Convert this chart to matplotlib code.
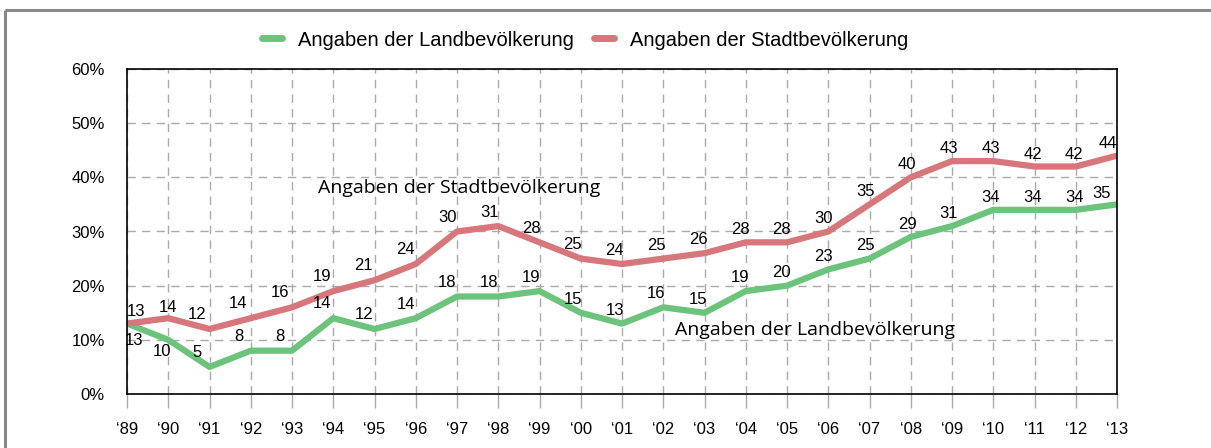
import matplotlib
matplotlib.use("Agg")
import matplotlib.pyplot as plt
from matplotlib.lines import Line2D
from matplotlib import font_manager as fm

years = ["‘89", "‘90", "‘91", "‘92", "‘93", "‘94", "‘95", "‘96", "‘97", "‘98", "‘99", "‘00", "‘01",
         "‘02", "‘03", "‘04", "‘05", "‘06", "‘07", "‘08", "‘09", "‘10", "‘11", "‘12", "‘13"]
land = [13, 10, 5, 8, 8, 14, 12, 14, 18, 18, 19, 15, 13, 16, 15, 19, 20, 23, 25, 29, 31, 34, 34, 34, 35]
stadt = [13, 14, 12, 14, 16, 19, 21, 24, 30, 31, 28, 25, 24, 25, 26, 28, 28, 30, 35, 40, 43, 43, 42, 42, 44]
yticks = [0, 10, 20, 30, 40, 50, 60]
ytick_labels = ["0%", "10%", "20%", "30%", "40%", "50%", "60%"]
land_name = "Angaben der Landbevölkerung"
stadt_name = "Angaben der Stadtbevölkerung"

green = "#6cc47c"
red = "#d7767b"

names = {f.name for f in fm.fontManager.ttflist}
num_font = "Liberation Sans" if "Liberation Sans" in names else "DejaVu Sans"
narrow = "Liberation Sans Narrow" if "Liberation Sans Narrow" in names else num_font
ann_font = "Open Sans" if "Open Sans" in names else "DejaVu Sans"

fig = plt.figure(figsize=(12.11, 4.48), dpi=100)
ax = fig.add_axes([127 / 1211, 54 / 448, 990 / 1211, 325 / 448])

x = list(range(len(years)))
ax.plot(x, land, color=green, lw=4.5, solid_capstyle="round", solid_joinstyle="round", zorder=3)
ax.plot(x, stadt, color=red, lw=4.5, solid_capstyle="round", solid_joinstyle="round", zorder=3)

ax.set_xlim(0, len(years) - 1)
ax.set_ylim(0, 60)
ax.set_xticks(x)
ax.set_xticklabels(years, fontfamily=num_font, fontsize=12)
ax.set_yticks(yticks)
ax.set_yticklabels(ytick_labels, fontfamily=num_font, fontsize=12)
ax.tick_params(axis="y", length=0, pad=16)
ax.tick_params(axis="x", length=10, color="#aaaaaa", width=1, pad=10)
ax.grid(True, color="#aaaaaa", linestyle=(0, (6, 4.5)), linewidth=1, zorder=1)
for s in ax.spines.values():
    s.set_color("black")
    s.set_linewidth(1.2)
    s.set_zorder(4)

PX = 0.72  # points per pixel


def label_offset(i):
    # default placement: above and slightly left of the point (pixels)
    return (-14 + 0.55 * i, 10.5 - 0.12 * i)


stadt_special = {0: (9, 7.5), 1: (0, 6), 24: (-9, 7.5)}
land_special = {0: (7, -21.5), 1: (-6.5, -16), 24: (-15.5, 6)}

for series, special in ((stadt, stadt_special), (land, land_special)):
    for i, v in enumerate(series):
        dx, dy = special.get(i, label_offset(i))
        ax.annotate(str(v), (i, v), xytext=(dx * PX, dy * PX), textcoords="offset points",
                    ha="center", va="baseline", fontsize=12, fontfamily=num_font, zorder=5,
                    annotation_clip=False)

ax.text(4.63, 38.0, stadt_name, ha="left", va="center", fontsize=14, fontfamily=ann_font)
ax.text(13.28, 11.8, land_name, ha="left", va="center", fontsize=14, fontfamily=ann_font)

handles = [Line2D([0], [0], color=green, lw=5, solid_capstyle="round"),
           Line2D([0], [0], color=red, lw=5, solid_capstyle="round")]
fig.legend(handles, [land_name, stadt_name], loc="center", bbox_to_anchor=(585 / 1211, 1 - 40 / 448),
           ncol=2, frameon=False, handlelength=1.0, handletextpad=0.8, columnspacing=1.0,
           prop={"family": narrow, "size": 14.5})

# outer frame
fig.add_artist(Line2D([5 / 1211, 1], [1 - 10 / 448, 1 - 10 / 448], transform=fig.transFigure,
                      color="#888888", lw=2.2, solid_capstyle="butt"))
fig.add_artist(Line2D([5 / 1211, 5 / 1211], [0, 1 - 10 / 448], transform=fig.transFigure,
                      color="#888888", lw=2.2, solid_capstyle="butt"))

fig.savefig("out.png", dpi=100)
